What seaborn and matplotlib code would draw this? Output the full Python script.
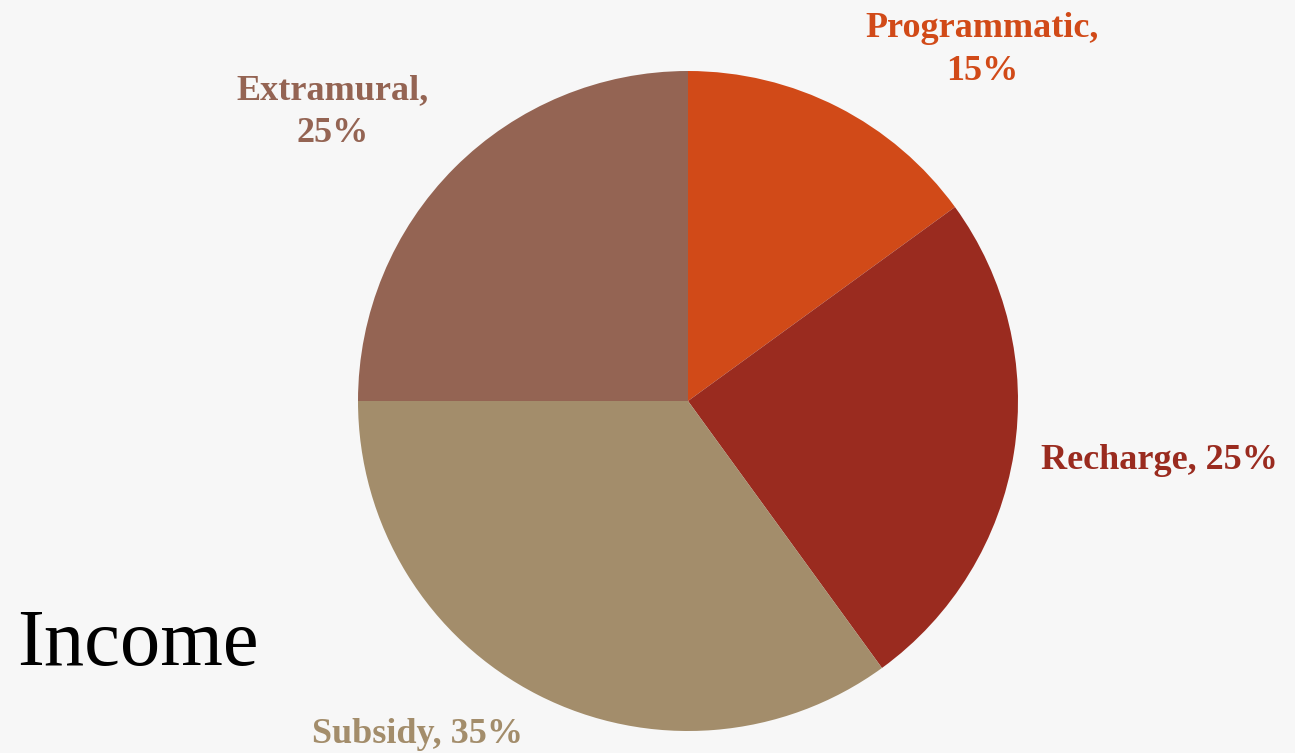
import matplotlib
matplotlib.use("Agg")
import matplotlib.pyplot as plt
import seaborn as sns

categories = ["Programmatic", "Recharge", "Subsidy", "Extramural"]
values = [15, 25, 35, 25]
colors = ["#D14A18", "#9A2B1F", "#A38D6B", "#946453"]
title = "Income"

sns.set_theme(style="white")
plt.rcParams['font.family'] = ['Liberation Serif', 'DejaVu Serif']

W, H = 1295, 753
fig = plt.figure(figsize=(W / 100, H / 100), dpi=100)
bg = "#F7F7F7"
fig.patch.set_facecolor(bg)

cx, cy, r = 688, 401, 330
ax = fig.add_axes([(cx - r) / W, (H - cy - r) / H, 2 * r / W, 2 * r / H])
ax.set_facecolor("none")
ax.pie(values, colors=colors, startangle=90, counterclock=False, radius=1,
       wedgeprops=dict(linewidth=0))
ax.set_xlim(-1, 1)
ax.set_ylim(-1, 1)
ax.set_aspect("equal")
ax.axis("off")

label_pos = {
    "Programmatic": (0.891, 1.064, "{},\n{}%"),
    "Recharge": (1.430, -0.179, "{}, {}%"),
    "Subsidy": (-0.821, -1.012, "{}, {}%"),
    "Extramural": (-1.076, 0.876, "{},\n{}%"),
}
for cat, val, col in zip(categories, values, colors):
    x, y, fmt = label_pos[cat]
    ax.text(x, y, fmt.format(cat, val), color=col, fontsize=26, fontweight="bold",
            ha="center", va="center", linespacing=1.38, clip_on=False)

fig.text(17 / W, 1 - 665 / H, title, fontsize=58, color="black",
         ha="left", va="baseline")

fig.savefig("out.png", dpi=100, facecolor=bg)
